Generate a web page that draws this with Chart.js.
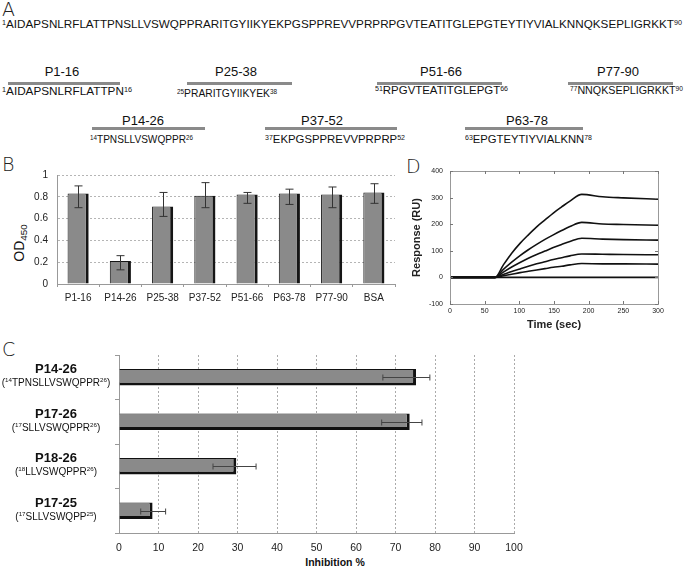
<!DOCTYPE html>
<html>
<head>
<meta charset="utf-8">
<script src="https://cdn.jsdelivr.net/npm/chart.js@4.4.1/dist/chart.umd.min.js"></script>
<style>
  body { margin: 0; background: #fff; }
  #fig { position: relative; width: 685px; height: 567px; overflow: hidden; font-family: "Liberation Sans", Arial, sans-serif; color: #111; }
  .abs { position: absolute; white-space: nowrap; line-height: 1; }
  .letter { position: absolute; font-family: "DejaVu Sans", sans-serif; font-weight: 200; font-size: 19px; line-height: 1; color: #222; }
  .rule { position: absolute; height: 3px; background: #8a8a8a; }
  sup { font-size: 0.62em; vertical-align: 0.45em; line-height: 0; }
  sub { font-size: 0.7em; vertical-align: -0.3em; line-height: 0; }
  canvas { position: absolute; }
</style>
</head>
<body>
<div id="fig">
  <div class="letter" style="left:2px;top:0px">A</div>
  <div class="letter" style="left:2px;top:155px">B</div>
  <div class="letter" style="left:2px;top:340px">C</div>
  <div class="letter" style="left:406px;top:157px">D</div>
  <div class="abs" id="odLabel" style="left:19px;top:243px;font-size:14px;transform:translate(-50%,-50%) rotate(-90deg)">OD<sub>450</sub></div>
  <div class="abs" id="inhLabel" style="left:335px;top:557px;font-size:10.5px;font-weight:bold;transform:translateX(-50%)">Inhibition %</div>
  <canvas id="chartB" width="400" height="150" style="left:0;top:160px"></canvas>
  <canvas id="chartC" width="540" height="222" style="left:0;top:345px"></canvas>
  <canvas id="chartD" width="285" height="175" style="left:400px;top:160px;z-index:2"></canvas>
</div>
<script>
// panel A: sequence and peptides
const fullSeq = "AIDAPSNLRFLATTPNSLLVSWQPPRARITGYIIKYEKPGSPPREVVPRPRPGVTEATITGLEPGTEYTIYVIALKNNQKSEPLIGRKKT";
const pepNames = ["P1-16", "P25-38", "P51-66", "P77-90", "P14-26", "P37-52", "P63-78"];
const pepStart = [1, 25, 51, 77, 14, 37, 63];
const pepEnd = [16, 38, 66, 90, 26, 52, 78];

// panel B: ELISA
const odLabels = ["P1-16", "P14-26", "P25-38", "P37-52", "P51-66", "P63-78", "P77-90", "BSA"];
const odMean = [0.83, 0.21, 0.71, 0.81, 0.82, 0.83, 0.82, 0.84];
const odLow = [0.70, 0.13, 0.62, 0.70, 0.74, 0.73, 0.70, 0.74];
const odHigh = [0.90, 0.26, 0.84, 0.93, 0.84, 0.87, 0.89, 0.92];

// panel C: inhibition
const inhNames = ["P14-26", "P17-26", "P18-26", "P17-25"];
const inhStart = [14, 17, 18, 17];
const inhSeq = ["TPNSLLVSWQPPR", "SLLVSWQPPR", "LLVSWQPPR", "SLLVSWQPP"];
const inhEnd = [26, 26, 26, 25];
const inhMean = [75.2, 73.6, 29.7, 8.5];
const inhLow = [66.8, 66.5, 23.8, 5.5];
const inhHigh = [78.7, 76.7, 34.7, 11.8];

// panel D: SPR sensorgram
const timeSec = [0, 65, 77, 89, 101, 113, 125, 137, 149, 161, 173, 190, 220, 250, 300];
const ru1 = [0, 0, 47, 91, 128, 160, 190, 216, 242, 265, 287, 312, 303, 299, 294];
const ru2 = [0, 0, 30, 57, 82, 104, 124, 143, 160, 176, 191, 207, 201, 199, 196];
const ru3 = [0, 0, 20, 39, 56, 72, 86, 99, 112, 124, 135, 147, 144, 142, 140];
const ru4 = [0, 0, 11, 22, 32, 42, 51, 59, 67, 74, 81, 88, 87, 86, 85];
const ru5 = [0, 0, 6, 12, 18, 23, 28, 33, 38, 42, 47, 52, 51, 51, 50];
const ru6 = [0, 0, 0, 0, 0, 0, 0, 0, 0, 0, 0, 0, 0, 0, 0];

// layout of panel A
const nameX = [62, 236, 441, 618, 143, 322, 527];
const nameBase = [76, 76, 76, 76, 125, 125, 125];
const ruleBox = [[8, 120, 83], [187, 292, 83], [377, 502, 83], [568, 673, 83], [92, 205, 128], [265, 397, 128], [465, 583, 128]];
const seqBox = [[2, 132, 95], [177, 277, 97], [375, 508, 94], [570, 683, 94], [90, 193, 143], [265, 405, 143], [465, 592, 143]];

const fig = document.getElementById("fig");

function place(html, x, base, size, opts) {
  opts = opts || {};
  const el = document.createElement("div");
  el.className = "abs";
  el.innerHTML = html;
  el.style.fontSize = size + "px";
  el.style.top = (base - 0.85 * size) + "px";
  fig.appendChild(el);
  const w = el.getBoundingClientRect().width;
  if (opts.width) {
    el.style.left = x + "px";
    el.style.transformOrigin = "0 0";
    el.style.transform = "scaleX(" + (opts.width / w) + ")";
  } else {
    el.style.left = (x - w / 2) + "px";
  }
  return el;
}

function seqHtml(a, b) {
  return "<sup>" + a + "</sup>" + fullSeq.slice(a - 1, b) + "<sup>" + b + "</sup>";
}

place(seqHtml(1, 90), 2, 28, 11, { width: 680 });
pepNames.forEach((name, i) => {
  place(name, nameX[i], nameBase[i], 13);
  const r = document.createElement("div");
  r.className = "rule";
  r.style.left = ruleBox[i][0] + "px";
  r.style.width = (ruleBox[i][1] - ruleBox[i][0]) + "px";
  r.style.top = (ruleBox[i][2] - 1.5) + "px";
  fig.appendChild(r);
  const s = seqBox[i];
  place(seqHtml(pepStart[i], pepEnd[i]), s[0], s[2], 10.5, { width: s[1] - s[0] });
});

Chart.defaults.font.family = "'Liberation Sans', Arial, sans-serif";
Chart.defaults.color = "#222";

const errorBars = {
  id: "errorBars",
  afterDatasetsDraw(chart) {
    const ds = chart.data.datasets[0];
    const meta = chart.getDatasetMeta(0);
    const horiz = chart.options.indexAxis === "y";
    const vScale = horiz ? chart.scales.x : chart.scales.y;
    const ctx = chart.ctx;
    const w = ds.capSize;
    ctx.save();
    ctx.strokeStyle = ds.errColor;
    ctx.lineWidth = 1;
    meta.data.forEach((bar, i) => {
      const lo = vScale.getPixelForValue(ds.errLow[i]);
      const hi = vScale.getPixelForValue(ds.errHigh[i]);
      const c = Math.round(horiz ? bar.y : bar.x) + 0.5;
      ctx.beginPath();
      if (horiz) {
        ctx.moveTo(lo, c); ctx.lineTo(hi, c);
        ctx.moveTo(lo, c - w); ctx.lineTo(lo, c + w);
        ctx.moveTo(hi, c - w); ctx.lineTo(hi, c + w);
      } else {
        ctx.moveTo(c, lo); ctx.lineTo(c, hi);
        ctx.moveTo(c - w, lo); ctx.lineTo(c + w, lo);
        ctx.moveTo(c - w, hi); ctx.lineTo(c + w, hi);
      }
      ctx.stroke();
    });
    ctx.restore();
  }
};

// Panel B
new Chart(document.getElementById("chartB"), {
  type: "bar",
  data: {
    labels: odLabels,
    datasets: [{
      data: odMean,
      backgroundColor: "#8a8a8a",
      borderColor: "#151515",
      borderWidth: { top: 1, left: 1, right: 3, bottom: 0 },
      borderSkipped: false,
      barPercentage: 0.5,
      categoryPercentage: 1,
      errLow: odLow,
      errHigh: odHigh,
      errColor: "#333",
      capSize: 4,
    }],
  },
  options: {
    responsive: false,
    animation: false,
    layout: { padding: { top: 12, right: 5, left: 0, bottom: 0 } },
    plugins: { legend: { display: false }, tooltip: { enabled: false } },
    scales: {
      x: {
        grid: { drawOnChartArea: false, offset: true, tickLength: 3, color: "#999" },
        border: { color: "#999" },
        ticks: { font: { size: 10 }, padding: 5, maxRotation: 0 },
        afterFit(s) { s.height = 26; },
      },
      y: {
        min: 0,
        max: 1,
        ticks: { stepSize: 0.2, font: { size: 10 }, padding: 9, callback: (v) => String(Math.round(v * 10) / 10) },
        grid: { color: "#b5b5b5", drawTicks: false },
        border: { color: "#999", dash: [2, 2] },
        afterFit(s) { s.width = 57; },
      },
    },
  },
  plugins: [errorBars],
});

// Panel D: frame, inward ticks and y tick labels
const boxPlugin = {
  id: "box",
  afterDraw(chart) {
    const a = chart.chartArea;
    const ctx = chart.ctx;
    const xs = chart.scales.x;
    const ys = chart.scales.y;
    ctx.save();
    ctx.strokeStyle = "#999";
    ctx.lineWidth = 1;
    ctx.strokeRect(Math.round(a.left) + 0.5, Math.round(a.top) + 0.5, Math.round(a.right - a.left), Math.round(a.bottom - a.top));
    ctx.strokeStyle = "#777";
    xs.ticks.forEach((t) => {
      const x = Math.round(xs.getPixelForValue(t.value)) + 0.5;
      ctx.beginPath();
      ctx.moveTo(x, a.top); ctx.lineTo(x, a.top + 3);
      ctx.moveTo(x, a.bottom); ctx.lineTo(x, a.bottom - 3);
      ctx.stroke();
    });
    ctx.fillStyle = "#222";
    ctx.font = "7px 'Liberation Sans', Arial, sans-serif";
    ctx.textAlign = "right";
    ctx.textBaseline = "middle";
    ys.ticks.forEach((t) => {
      const y = Math.round(ys.getPixelForValue(t.value)) + 0.5;
      ctx.beginPath();
      ctx.moveTo(a.left, y); ctx.lineTo(a.left + 3, y);
      ctx.moveTo(a.right, y); ctx.lineTo(a.right - 3, y);
      ctx.stroke();
      ctx.fillText(String(t.value), a.left - 7, y);
    });
    ctx.restore();
  }
};

const ruSeries = [ru1, ru2, ru3, ru4, ru5, ru6];
new Chart(document.getElementById("chartD"), {
  type: "line",
  data: {
    datasets: ruSeries.map((ru) => ({
      data: timeSec.map((t, i) => ({ x: t, y: ru[i] })),
      borderColor: "#111",
      borderWidth: 1.6,
      pointRadius: 0,
      cubicInterpolationMode: "monotone",
      fill: false,
    })),
  },
  options: {
    responsive: false,
    animation: false,
    layout: { padding: { top: 11, right: 27, left: 0, bottom: 0 } },
    plugins: { legend: { display: false }, tooltip: { enabled: false } },
    scales: {
      x: {
        type: "linear",
        min: 0,
        max: 300,
        ticks: { stepSize: 50, font: { size: 7 }, padding: 3, autoSkip: false, maxRotation: 0 },
        grid: { display: false, drawTicks: false },
        border: { color: "#999" },
        title: { display: true, text: "Time (sec)", font: { size: 11, weight: "bold" }, padding: { top: 0, bottom: 3 } },
        afterFit(s) { s.height = 31; },
      },
      y: {
        min: -100,
        max: 400,
        ticks: { stepSize: 100, display: false },
        grid: { display: false, drawTicks: false },
        border: { color: "#999" },
        title: { display: true, text: "Response (RU)", font: { size: 11, weight: "bold" }, padding: { top: 10, bottom: 0 } },
        afterFit(s) { s.width = 50; },
      },
    },
  },
  plugins: [boxPlugin],
});

// Panel C
function drawRich(ctx, parts, cx, y, size) {
  const big = size + "px 'Liberation Sans', Arial, sans-serif";
  const small = (size * 0.62) + "px 'Liberation Sans', Arial, sans-serif";
  let total = 0;
  parts.forEach((p) => { ctx.font = p.sup ? small : big; total += ctx.measureText(p.t).width; });
  let x = cx - total / 2;
  parts.forEach((p) => {
    ctx.font = p.sup ? small : big;
    ctx.fillText(p.t, x, p.sup ? y - size * 0.38 : y);
    x += ctx.measureText(p.t).width;
  });
}

const peptideLabels = {
  id: "peptideLabels",
  afterDraw(chart) {
    const ctx = chart.ctx;
    const ys = chart.scales.y;
    ctx.save();
    ctx.fillStyle = "#111";
    ctx.textAlign = "left";
    ctx.textBaseline = "alphabetic";
    inhNames.forEach((name, i) => {
      const y = ys.getPixelForValue(i);
      ctx.font = "bold 13px 'Liberation Sans', Arial, sans-serif";
      const w = ctx.measureText(name).width;
      ctx.fillText(name, 56 - w / 2, y - 4);
      drawRich(ctx, [
        { t: "(" }, { t: String(inhStart[i]), sup: true }, { t: inhSeq[i] },
        { t: String(inhEnd[i]), sup: true }, { t: ")" },
      ], 56, y + 9, 10);
    });
    ctx.restore();
  }
};

new Chart(document.getElementById("chartC"), {
  type: "bar",
  data: {
    labels: inhNames,
    datasets: [{
      data: inhMean,
      backgroundColor: "#8a8a8a",
      borderColor: "#111",
      borderWidth: { top: 1, left: 0, right: 3, bottom: 3 },
      borderSkipped: false,
      barPercentage: 0.37,
      categoryPercentage: 1,
      errLow: inhLow,
      errHigh: inhHigh,
      errColor: "#444",
      capSize: 3,
    }],
  },
  options: {
    indexAxis: "y",
    responsive: false,
    animation: false,
    layout: { padding: { top: 10, right: 26, left: 0, bottom: 0 } },
    plugins: { legend: { display: false }, tooltip: { enabled: false } },
    scales: {
      x: {
        min: 0,
        max: 100,
        ticks: { stepSize: 10, font: { size: 10.5 }, padding: 9 },
        grid: { color: "#aaa", drawTicks: false },
        border: { color: "#999", dash: [2, 2] },
        afterFit(s) { s.height = 34; },
      },
      y: {
        ticks: { display: false },
        grid: { drawOnChartArea: false, offset: true, tickLength: 4, color: "#999" },
        border: { color: "#999" },
        afterFit(s) { s.width = 119; },
      },
    },
  },
  plugins: [errorBars, peptideLabels],
});
</script>
</body>
</html>
